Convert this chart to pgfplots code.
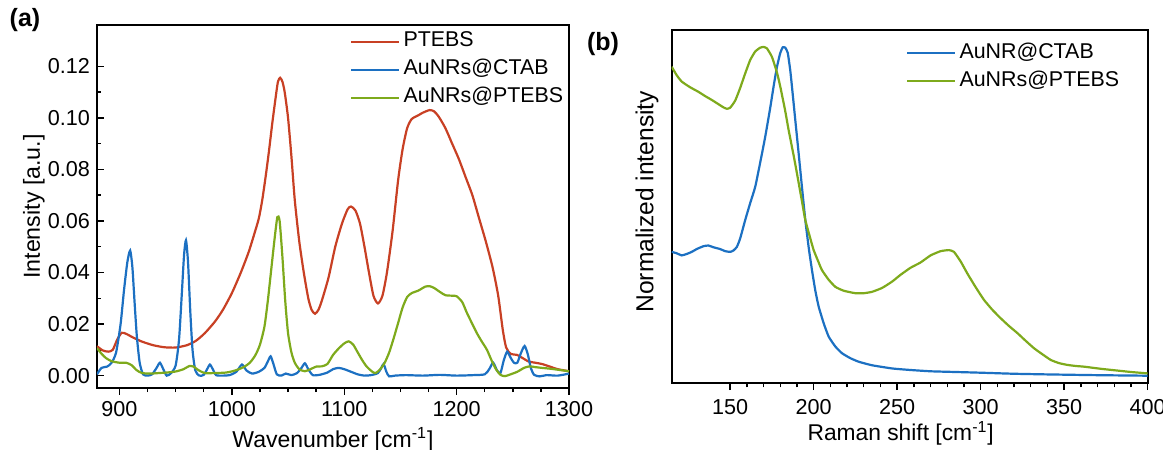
\documentclass[border=0pt]{standalone}
\usepackage{fontspec}
\setmainfont{Liberation Sans}
\usepackage{pgfplots}
\pgfplotsset{compat=1.18}
\definecolor{cred}{RGB}{200,64,36}
\definecolor{cblue}{RGB}{28,112,194}
\definecolor{cgreen}{RGB}{126,170,28}

\pgfplotsset{
  common/.style={
    scale only axis,
    axis line style={line width=0.9pt, black},
    every tick/.style={black, line width=0.7pt},
    major tick length=3.4pt,
    minor tick length=2pt,
    xticklabel style={font=\fontsize{10.8}{12}\selectfont},
    yticklabel style={font=\fontsize{10.8}{12}\selectfont},
    /pgf/number format/assume math mode=true,
    /pgf/number format/1000 sep={},
    legend cell align=left,
    legend image code/.code={\draw[#1, line width=1.1pt] (0pt,0pt) -- (24pt,0pt);},
    every axis plot/.append style={line width=1.1pt},
  }
}

\begin{document}
\begin{tikzpicture}[x=1pt,y=1pt]
\useasboundingbox (0,0) rectangle (581.5,225);

\begin{axis}[common,
  at={(48.5pt,31pt)}, anchor=south west,
  width=236pt, height=181.5pt,
  xmin=880, xmax=1300, ymin=-0.0048, ymax=0.136,
  xtick={900,1000,1100,1200,1300}, minor x tick num=3,
  ytick={0,0.02,0.04,0.06,0.08,0.10,0.12}, minor y tick num=1,
  xtick pos=bottom, ytick pos=left,
  tick align=inside,
  major x tick style={yshift=-3.4pt},
  minor x tick style={yshift=-2pt},
  xticklabel style={yshift=-3.3pt},
  yticklabel style={/pgf/number format/.cd, fixed, fixed zerofill, precision=2},
  xlabel={Wavenumber [cm\textsuperscript{-1}]},
  ylabel={Intensity [a.u.]},
  every axis x label/.style={at={(axis description cs:0.5,-0.142)}, anchor=center, font=\fontsize{11.5}{14}\selectfont},
  every axis y label/.style={at={(axis description cs:-0.134,0.5)}, anchor=center, rotate=90, font=\fontsize{11.6}{14}\selectfont},
  legend style={at={(axis description cs:0.536,0.993)}, anchor=north west, draw=none, fill=none,
    font=\fontsize{10.7}{12}\selectfont, inner sep=0pt, row sep=0pt,
    nodes={inner sep=1.5pt, text height=8pt, text depth=3pt}},
]
\addplot[cred, smooth, tension=0.4] coordinates {
(880,0.0114) (885,0.0098) (890,0.0093) (894,0.0100) (898,0.0140) (902,0.0166) (906,0.0162)
(912,0.0148) (920,0.0132) (930,0.0118) (940,0.0110) (950,0.0109) (960,0.0118) (968,0.0135)
(976,0.0165) (985,0.0210) (992,0.0255) (1000,0.0320) (1008,0.0400) (1015,0.0480) (1020,0.0550)
(1024,0.0610) (1027,0.0680) (1030,0.0770) (1033,0.0870) (1036,0.0980) (1039,0.1080) (1041,0.1140)
(1043,0.1155) (1045,0.1140) (1047,0.1100) (1050,0.1000) (1053,0.0850) (1056,0.0680) (1060,0.0520)
(1064,0.0400) (1068,0.0300) (1071,0.0255) (1074,0.0240) (1077,0.0255) (1080,0.0290) (1086,0.0380)
(1092,0.0500) (1098,0.0590) (1103,0.0645) (1106,0.0656) (1110,0.0640) (1114,0.0590) (1118,0.0500)
(1122,0.0400) (1126,0.0310) (1130,0.0280) (1134,0.0310) (1138,0.0400) (1143,0.0560) (1148,0.0760)
(1152,0.0880) (1156,0.0960) (1160,0.0995) (1166,0.1010) (1170,0.1020) (1176,0.1030) (1180,0.1025)
(1184,0.1005) (1190,0.0960) (1196,0.0900) (1202,0.0840) (1208,0.0770) (1214,0.0700) (1220,0.0610)
(1226,0.0520) (1232,0.0420) (1237,0.0310) (1241,0.0180) (1244,0.0110) (1248,0.0085) (1254,0.0080)
(1258,0.0070) (1264,0.0055) (1270,0.0050) (1276,0.0045) (1283,0.0035) (1290,0.0025) (1300,0.0017)
};
\addlegendentry{PTEBS}
\addplot[cblue, smooth, tension=0.4] coordinates {
(880,0.0005) (884,0.0030) (889,0.0035) (893,0.0050) (897,0.0090) (901,0.0200) (904,0.0330)
(907,0.0440) (909.5,0.0485) (911.5,0.0420) (913.5,0.0280) (915.5,0.0150) (918,0.0050) (921,0.0005)
(925,0.0000) (929,0.0005) (933,0.0030) (936,0.0050) (939,0.0025) (942,0.0000) (946,0.0010)
(950,0.0040) (953,0.0140) (955.5,0.0320) (957.5,0.0470) (959.2,0.0525) (961,0.0440) (963,0.0250)
(965,0.0100) (967.5,0.0020) (971,0.0000) (975,0.0003) (978,0.0025) (980.5,0.0043) (983,0.0025)
(986,0.0002) (992,0.0000) (998,0.0002) (1004,0.0015) (1009,0.0043) (1013,0.0020) (1018,0.0008)
(1024,0.0015) (1029,0.0030) (1032,0.0055) (1034.5,0.0075) (1037,0.0045) (1040,0.0005) (1044,0.0000)
(1048,0.0008) (1053,0.0002) (1058,0.0010) (1062,0.0030) (1065,0.0048) (1068,0.0025) (1072,0.0002)
(1078,0.0003) (1085,0.0012) (1090,0.0025) (1095,0.0030) (1100,0.0025) (1106,0.0015) (1112,0.0005)
(1118,0.0000) (1124,0.0002) (1130,0.0010) (1133,0.0030) (1135,0.0045) (1137.5,0.0015) (1140,-0.0003)
(1145,0.0000) (1155,0.0002) (1170,0.0000) (1185,0.0003) (1200,0.0000) (1215,0.0002) (1225,0.0005)
(1229,0.0025) (1232.5,0.0050) (1236,0.0020) (1239,0.0010) (1242,0.0060) (1245,0.0093) (1248,0.0070)
(1251,0.0050) (1254,0.0050) (1257,0.0085) (1260.5,0.0115) (1263.5,0.0080) (1266,0.0030) (1269,0.0003)
(1274,-0.0003) (1280,0.0002) (1290,0.0000) (1300,0.0008)
};
\addlegendentry{AuNRs@CTAB}
\addplot[cgreen, smooth, tension=0.4] coordinates {
(880,0.0107) (884,0.0085) (888,0.0068) (893,0.0056) (900,0.0050) (906,0.0050) (911,0.0040)
(915,0.0022) (920,0.0010) (928,0.0008) (935,0.0010) (942,0.0012) (950,0.0016) (957,0.0025)
(962,0.0037) (966,0.0035) (970,0.0022) (976,0.0010) (985,0.0010) (995,0.0012) (1003,0.0020)
(1010,0.0032) (1016,0.0050) (1021,0.0080) (1025,0.0120) (1029,0.0190) (1032,0.0290) (1035,0.0410)
(1038,0.0530) (1040.5,0.0615) (1042.5,0.0600) (1045,0.0460) (1047.5,0.0290) (1050,0.0165) (1053,0.0090)
(1056,0.0050) (1060,0.0025) (1065,0.0017) (1070,0.0025) (1075,0.0035) (1080,0.0036) (1085,0.0045)
(1090,0.0080) (1095,0.0105) (1100,0.0125) (1104,0.0133) (1108,0.0120) (1112,0.0090) (1116,0.0060)
(1120,0.0035) (1125,0.0015) (1128,0.0010) (1132,0.0025) (1136,0.0050) (1140,0.0090) (1144,0.0145)
(1148,0.0205) (1152,0.0265) (1156,0.0305) (1160,0.0320) (1166,0.0330) (1172,0.0345) (1176,0.0347)
(1180,0.0340) (1185,0.0325) (1190,0.0312) (1196,0.0310) (1200,0.0308) (1205,0.0285) (1209,0.0245)
(1214,0.0200) (1218,0.0165) (1222,0.0135) (1227,0.0100) (1231,0.0060) (1235,0.0025) (1239,0.0003)
(1243,-0.0002) (1248,0.0005) (1254,0.0015) (1260,0.0030) (1265,0.0036) (1270,0.0033) (1276,0.0030)
(1283,0.0027) (1290,0.0023) (1300,0.0017)
};
\addlegendentry{AuNRs@PTEBS}
\end{axis}

\begin{axis}[common,
  at={(335.85pt,33.35pt)}, anchor=south west,
  width=238pt, height=176.65pt,
  xmin=115, xmax=400, ymin=0, ymax=1,
  xtick={150,200,250,300,350,400}, minor x tick num=4,
  ytick=\empty,
  xtick pos=bottom,
  tick align=outside,
  xticklabel style={yshift=-1pt},
  xlabel={Raman shift [cm\textsuperscript{-1}]},
  ylabel={Normalized intensity},
  every axis x label/.style={at={(axis description cs:0.481,-0.142)}, anchor=center, font=\fontsize{11.4}{14}\selectfont},
  every axis y label/.style={at={(axis description cs:-0.052,0.514)}, anchor=center, rotate=90, font=\fontsize{12.3}{14}\selectfont},
  legend style={at={(axis description cs:0.492,0.975)}, anchor=north west, draw=none, fill=none,
    font=\fontsize{10.7}{12}\selectfont, inner sep=0pt, row sep=0pt,
    nodes={inner sep=1.5pt, text height=8pt, text depth=3pt}},
]
\addplot[cblue, smooth, tension=0.3] coordinates {
(115,0.372) (118,0.368) (121,0.362) (124,0.366) (127,0.372) (130,0.380) (134,0.388) (137,0.390)
(140,0.385) (144,0.380) (147,0.374) (150,0.372) (152,0.376) (154,0.386) (156,0.410) (159,0.462)
(162,0.510) (165,0.556) (168,0.625) (171,0.698) (174,0.780) (176,0.840) (178,0.895) (180,0.935)
(181.5,0.951) (183,0.950) (184.5,0.935) (186,0.885) (187,0.840) (189,0.745) (191,0.651) (193,0.555)
(195,0.462) (197,0.385) (199,0.320) (201,0.262) (203,0.217) (206,0.170) (209,0.132) (213,0.104)
(217,0.085) (222,0.071) (227,0.061) (235,0.051) (247,0.042) (257,0.038) (270,0.034) (285,0.032)
(300,0.030) (320,0.027) (342,0.025) (370,0.023) (400,0.0215)
};
\addlegendentry{AuNR@CTAB}
\addplot[cgreen, smooth, tension=0.3] coordinates {
(115,0.896) (118,0.872) (121,0.854) (126,0.838) (131,0.825) (135,0.813) (139,0.802) (143,0.790)
(146,0.781) (148,0.777) (150,0.780) (153,0.800) (156,0.836) (159,0.877) (162,0.915) (165,0.939)
(168,0.950) (170,0.952) (172,0.948) (175,0.924) (178,0.880) (180,0.840) (183,0.770) (185,0.717)
(188,0.645) (190,0.594) (193,0.515) (195,0.462) (198,0.410) (200,0.377) (203,0.342) (205,0.320)
(209,0.293) (213,0.273) (218,0.262) (225,0.255) (230,0.255) (235,0.259) (241,0.270) (247,0.288)
(252,0.307) (258,0.327) (264,0.342) (270,0.362) (276,0.374) (281,0.377) (284,0.372) (288,0.345)
(292,0.311) (297,0.272) (302,0.236) (307,0.208) (312,0.184) (317,0.162) (322,0.142) (327,0.120)
(332,0.099) (337,0.082) (342,0.066) (347,0.057) (352,0.052) (357,0.049) (362,0.047) (372,0.041)
(382,0.036) (390,0.032) (400,0.028)
};
\addlegendentry{AuNRs@PTEBS}
\end{axis}

\node[font=\bfseries\fontsize{12.5}{14}\selectfont] at (12.5,215) {(a)};
\node[font=\bfseries\fontsize{12.5}{14}\selectfont] at (301.5,203) {(b)};
\end{tikzpicture}
\end{document}
